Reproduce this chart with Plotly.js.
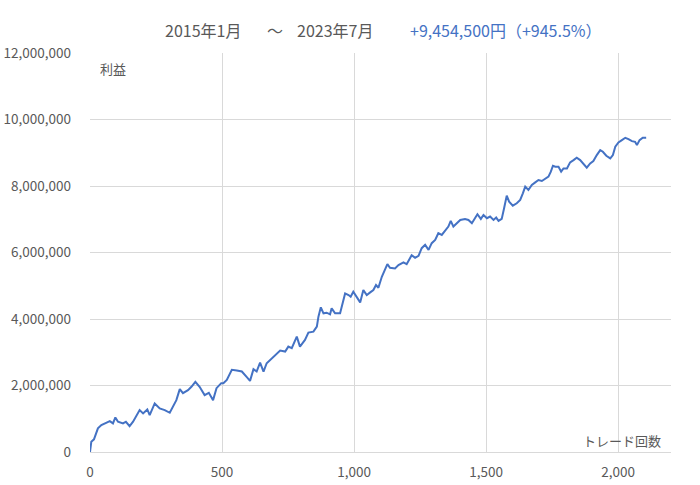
<!DOCTYPE html>
<html>
<head>
<meta charset="utf-8">
<script src="https://cdn.plot.ly/plotly-3.0.1.min.js"></script>
<style>
  html, body { margin: 0; padding: 0; background: #ffffff; }
  #chart { width: 700px; height: 485px; }
</style>
</head>
<body>
<div id="chart"></div>
<script>
// trade count (x) and cumulative profit in yen (y)
var trades = [
  0, 5, 15, 20, 30, 43, 62, 75, 87, 96, 106, 125, 136, 150, 163, 175, 188, 201, 217, 226,
  245, 264, 283, 302, 314, 327, 340, 352, 371, 384, 399, 415, 434, 450, 466, 479, 497, 505, 518, 537,
  556, 575, 593, 606, 619, 631, 644, 657, 669, 688, 707, 720, 739, 751, 764, 773, 783, 795, 814, 827,
  846, 859, 865, 874, 884, 896, 909, 915, 928, 947, 957, 966, 979, 987, 997, 1010, 1023, 1035, 1048, 1061,
  1073, 1083, 1092, 1105, 1117, 1126, 1136, 1155, 1168, 1187, 1199, 1218, 1231, 1244, 1256, 1269, 1282, 1294, 1307, 1319,
  1332, 1345, 1357, 1366, 1376, 1389, 1402, 1420, 1433, 1446, 1458, 1467, 1480, 1490, 1503, 1515, 1528, 1538, 1547, 1559,
  1568, 1578, 1587, 1601, 1616, 1629, 1639, 1648, 1660, 1673, 1686, 1698, 1711, 1723, 1736, 1745, 1753, 1762, 1774, 1784,
  1793, 1806, 1818, 1831, 1843, 1856, 1869, 1881, 1894, 1906, 1919, 1932, 1942, 1955, 1970, 1980, 1989, 2001, 2014, 2027,
  2039, 2052, 2064, 2071, 2081, 2093, 2106
];
var profit = [
  0, 310000, 380000, 510000, 710000, 810000, 880000, 930000, 860000, 1040000, 910000, 860000, 910000, 780000, 910000, 1060000, 1260000, 1160000, 1280000, 1110000,
  1460000, 1310000, 1260000, 1180000, 1360000, 1560000, 1890000, 1770000, 1860000, 1960000, 2110000, 1960000, 1710000, 1780000, 1560000, 1920000, 2070000, 2070000, 2170000, 2470000,
  2450000, 2420000, 2260000, 2140000, 2490000, 2420000, 2690000, 2420000, 2670000, 2820000, 2970000, 3050000, 3020000, 3170000, 3120000, 3270000, 3470000, 3170000, 3370000, 3590000,
  3620000, 3770000, 4070000, 4350000, 4170000, 4190000, 4140000, 4320000, 4170000, 4170000, 4470000, 4770000, 4720000, 4670000, 4820000, 4670000, 4500000, 4870000, 4720000, 4800000,
  4870000, 5020000, 4940000, 5270000, 5470000, 5650000, 5540000, 5520000, 5620000, 5700000, 5650000, 5920000, 5840000, 5900000, 6130000, 6230000, 6080000, 6280000, 6380000, 6580000,
  6530000, 6680000, 6780000, 6950000, 6780000, 6880000, 6980000, 7010000, 6980000, 6880000, 7030000, 7150000, 7010000, 7130000, 7030000, 7080000, 6980000, 7050000, 6950000, 7010000,
  7330000, 7710000, 7530000, 7410000, 7480000, 7580000, 7780000, 7980000, 7880000, 8030000, 8110000, 8180000, 8150000, 8210000, 8280000, 8430000, 8610000, 8580000, 8580000, 8430000,
  8530000, 8530000, 8710000, 8780000, 8850000, 8780000, 8650000, 8550000, 8680000, 8750000, 8930000, 9080000, 9030000, 8910000, 8830000, 8930000, 9180000, 9310000, 9380000, 9450000,
  9410000, 9350000, 9330000, 9230000, 9380000, 9450000, 9454500
];
var xTicks = [0, 500, 1000, 1500, 2000];
var yTicks = [0, 2000000, 4000000, 6000000, 8000000, 10000000, 12000000];

var grey = '#595959';
var blue = '#4472C4';

var data = [{
  x: trades,
  y: profit,
  type: 'scatter',
  mode: 'lines',
  line: {color: blue, width: 2},
  hoverinfo: 'x+y'
}];

// title pieces are placed one by one to keep the wide gaps of the original
function titlePiece(text, px, anchor, color) {
  return {
    text: text, xref: 'paper', yref: 'paper',
    x: (px - 90) / 581, y: (452 - 30) / 399,
    xanchor: anchor, yanchor: 'middle', showarrow: false,
    font: {size: 16, color: color}
  };
}

var layout = {
  width: 700,
  height: 485,
  margin: {l: 90, r: 29, t: 53, b: 33},
  paper_bgcolor: '#ffffff',
  plot_bgcolor: '#ffffff',
  showlegend: false,
  font: {family: '"Noto Sans CJK JP", "Noto Sans", sans-serif', color: grey, size: 12},
  xaxis: {
    range: [0, 2200],
    tickvals: xTicks,
    tickformat: ',',
    showgrid: true,
    gridcolor: '#d9d9d9',
    gridwidth: 1,
    zeroline: false,
    showline: true,
    linecolor: '#d9d9d9',
    linewidth: 1,
    ticks: '',
    ticklabelstandoff: 8,
    tickfont: {size: 13.5, color: grey},
    fixedrange: true
  },
  yaxis: {
    range: [0, 12000000],
    tickvals: yTicks,
    tickformat: ',',
    showgrid: true,
    gridcolor: '#d9d9d9',
    gridwidth: 1,
    zeroline: false,
    showline: false,
    ticks: '',
    ticklabelstandoff: 18,
    tickfont: {size: 13.5, color: grey},
    fixedrange: true
  },
  annotations: [
    titlePiece('2015年1月', 163, 'left', grey),
    titlePiece('～', 275, 'center', grey),
    titlePiece('2023年7月', 295, 'left', grey),
    titlePiece('+9,454,500円（+945.5%）', 408, 'left', blue),
    {
      text: '利益', xref: 'paper', yref: 'paper', x: 0.014, y: 0.962,
      xanchor: 'left', yanchor: 'middle', showarrow: false,
      font: {size: 13, color: grey}
    },
    {
      text: 'トレード回数', xref: 'paper', yref: 'paper', x: 0.986, y: 0.028,
      xanchor: 'right', yanchor: 'middle', showarrow: false,
      font: {size: 13, color: grey}
    }
  ]
};

Plotly.newPlot('chart', data, layout, {displayModeBar: false, staticPlot: true});
</script>
</body>
</html>
